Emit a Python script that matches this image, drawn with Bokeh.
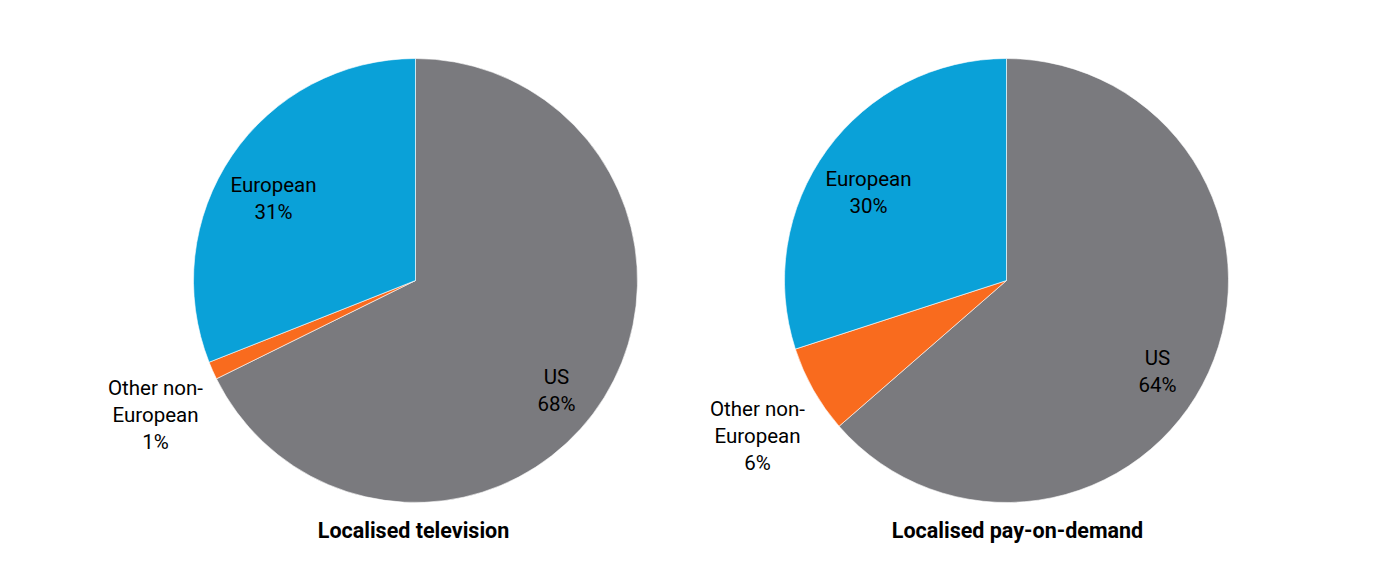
import math
from bokeh.plotting import figure
from bokeh.models import Range1d, ColumnDataSource
from bokeh.core.properties import value
from bokeh.embed import file_html
from bokeh.resources import INLINE

# Data
categories = ["US", "Other non-European", "European"]
label_names = [["US"], ["Other non-", "European"], ["European"]]
tv_values = [67.7, 1.3, 31.0]
tv_labels = ["68%", "1%", "31%"]
pod_values = [63.6, 6.4, 30.0]
pod_labels = ["64%", "6%", "30%"]
titles = ["Localised television", "Localised pay-on-demand"]
colors = ["#7a7a7e", "#f96b1e", "#0aa1d8"]

W, H = 1357, 546
FONT = "Roboto"

p = figure(width=W, height=H, output_backend="svg", toolbar_location=None,
           x_range=Range1d(0, W), y_range=Range1d(562 - H, 562),
           min_border=0)
p.axis.visible = False
p.grid.visible = False
p.outline_line_color = None
p.background_fill_color = "white"
p.border_fill_color = "white"

def sy(y):
    return 562 - y

LINE = 27
pies = [
    dict(cx=415, cy=280, r=222, vals=tv_values, pct=tv_labels, title=titles[0], tx=413,
         top=[(556, 376), (155, 387), (273, 184)]),
    dict(cx=1006, cy=280, r=222, vals=pod_values, pct=pod_labels, title=titles[1], tx=1017,
         top=[(1157, 357), (757, 408), (868, 178)]),
]

for pie in pies:
    total = sum(pie["vals"])
    starts, ends = [], []
    cum = 0.0
    for v in pie["vals"]:
        starts.append(math.pi / 2 - 2 * math.pi * cum / total)
        cum += v
        ends.append(math.pi / 2 - 2 * math.pi * cum / total)
    src = ColumnDataSource(dict(start=starts, end=ends, color=colors))
    p.wedge(x=pie["cx"], y=sy(pie["cy"]), radius=pie["r"], start_angle="start",
            end_angle="end", direction="clock", fill_color="color",
            line_color="white", line_width=0.6, source=src)
    xs, ys, ts = [], [], []
    for names, pc, (lx, ly) in zip(label_names, pie["pct"], pie["top"]):
        for i, line in enumerate(names + [pc]):
            xs.append(lx)
            ys.append(sy(ly + i * LINE))
            ts.append(line)
    lsrc = ColumnDataSource(dict(x=xs, y=ys, t=ts))
    p.text(x="x", y="y", text="t", source=lsrc, text_font=value(FONT), text_font_size="20.5px",
           text_align="center", text_baseline="middle", text_color="#000000")
    p.text(x=[pie["tx"]], y=[sy(530)], text=[pie["title"]], text_font=value(FONT),
           text_font_size="21.5px", text_font_style="bold", text_align="center",
           text_baseline="middle", text_color="#000000")

open("out.html", "w").write(file_html(p, INLINE))
